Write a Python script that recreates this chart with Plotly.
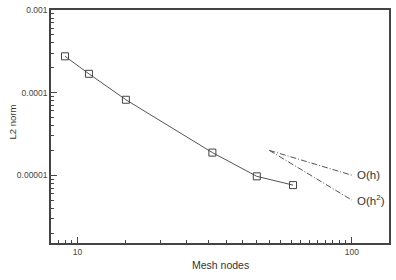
import math
import plotly.graph_objects as go

# Data
mesh_nodes = [9, 11, 15, 31, 45, 61]
l2_norm = [2.75e-4, 1.69e-4, 8.2e-5, 1.88e-5, 9.7e-6, 7.6e-6]

ref_x = [50, 100]
ref_oh = [2.0e-5, 1.0e-5]
ref_oh2 = [2.0e-5, 5.0e-6]
ref_labels = ["O(h)", "O(h<sup>2</sup>)"]

x_tickvals = [10, 100]
x_ticktext = ["10", "100"]
x_minor = [8.5, 9, 9.5] + list(range(15, 100, 5))
y_tickvals = [1e-5, 1e-4, 1e-3]
y_ticktext = ["0.00001", "0.0001", "0.001"]
y_minor = [m * 10.0 ** e for e in (-6, -5, -4) for m in range(2, 10)]

FONT = "Liberation Sans, Arial, sans-serif"
AX = "#444444"

fig = go.Figure()
fig.add_trace(go.Scatter(
    x=mesh_nodes, y=l2_norm, mode="lines+markers",
    line=dict(color="#555555", width=1),
    marker=dict(symbol="square-open", size=7, color="#444444", line=dict(width=1)),
    showlegend=False,
))
for ys in (ref_oh, ref_oh2):
    fig.add_trace(go.Scatter(
        x=ref_x, y=ys, mode="lines",
        line=dict(color="#555555", width=1, dash="6px,2px,1px,2px"),
        showlegend=False,
    ))

for ys, lab in zip((ref_oh, ref_oh2), ref_labels):
    fig.add_annotation(
        x=math.log10(ref_x[-1]), y=math.log10(ys[-1]), xref="x", yref="y",
        text=lab, showarrow=False, xanchor="left", yanchor="middle",
        xshift=3, font=dict(family=FONT, size=11.5, color="#333333"),
    )

fig.add_annotation(
    x=0.5, y=-0.093, xref="paper", yref="paper", text="Mesh nodes",
    showarrow=False, xanchor="center", yanchor="middle",
    font=dict(family=FONT, size=10.5, color="#333333"),
)
fig.add_annotation(
    x=-0.115, y=0.518, xref="paper", yref="paper", text="L2 norm",
    showarrow=False, xanchor="center", yanchor="middle", textangle=-90,
    font=dict(family=FONT, size=9.5, color="#333333"),
)

fig.update_xaxes(
    type="log", range=[math.log10(8), math.log10(136.5)],
    tickmode="array", tickvals=x_tickvals, ticktext=x_ticktext,
    ticks="inside", ticklen=6, tickwidth=1, tickcolor=AX,
    minor=dict(tickmode="array", tickvals=x_minor, ticks="inside", ticklen=3,
               tickwidth=1, tickcolor=AX, showgrid=False),
    showgrid=False, zeroline=False,
    showline=True, mirror=True, linecolor=AX, linewidth=1.5,
    tickfont=dict(family=FONT, size=8.5, color="#444444"),
)
fig.update_yaxes(
    type="log", range=[-5.82, -3],
    tickmode="array", tickvals=y_tickvals, ticktext=y_ticktext,
    ticks="inside", ticklen=6, tickwidth=1, tickcolor=AX,
    minor=dict(tickmode="array", tickvals=y_minor, ticks="inside", ticklen=3,
               tickwidth=1, tickcolor=AX, showgrid=False),
    showgrid=False, zeroline=False,
    showline=True, mirror=True, linecolor=AX, linewidth=1.5,
    tickfont=dict(family=FONT, size=8.5, color="#444444"),
)

fig.update_layout(
    width=396, height=280,
    margin=dict(l=51, r=6, t=5, b=37),
    paper_bgcolor="white", plot_bgcolor="white",
)

fig.write_html("out.html")
